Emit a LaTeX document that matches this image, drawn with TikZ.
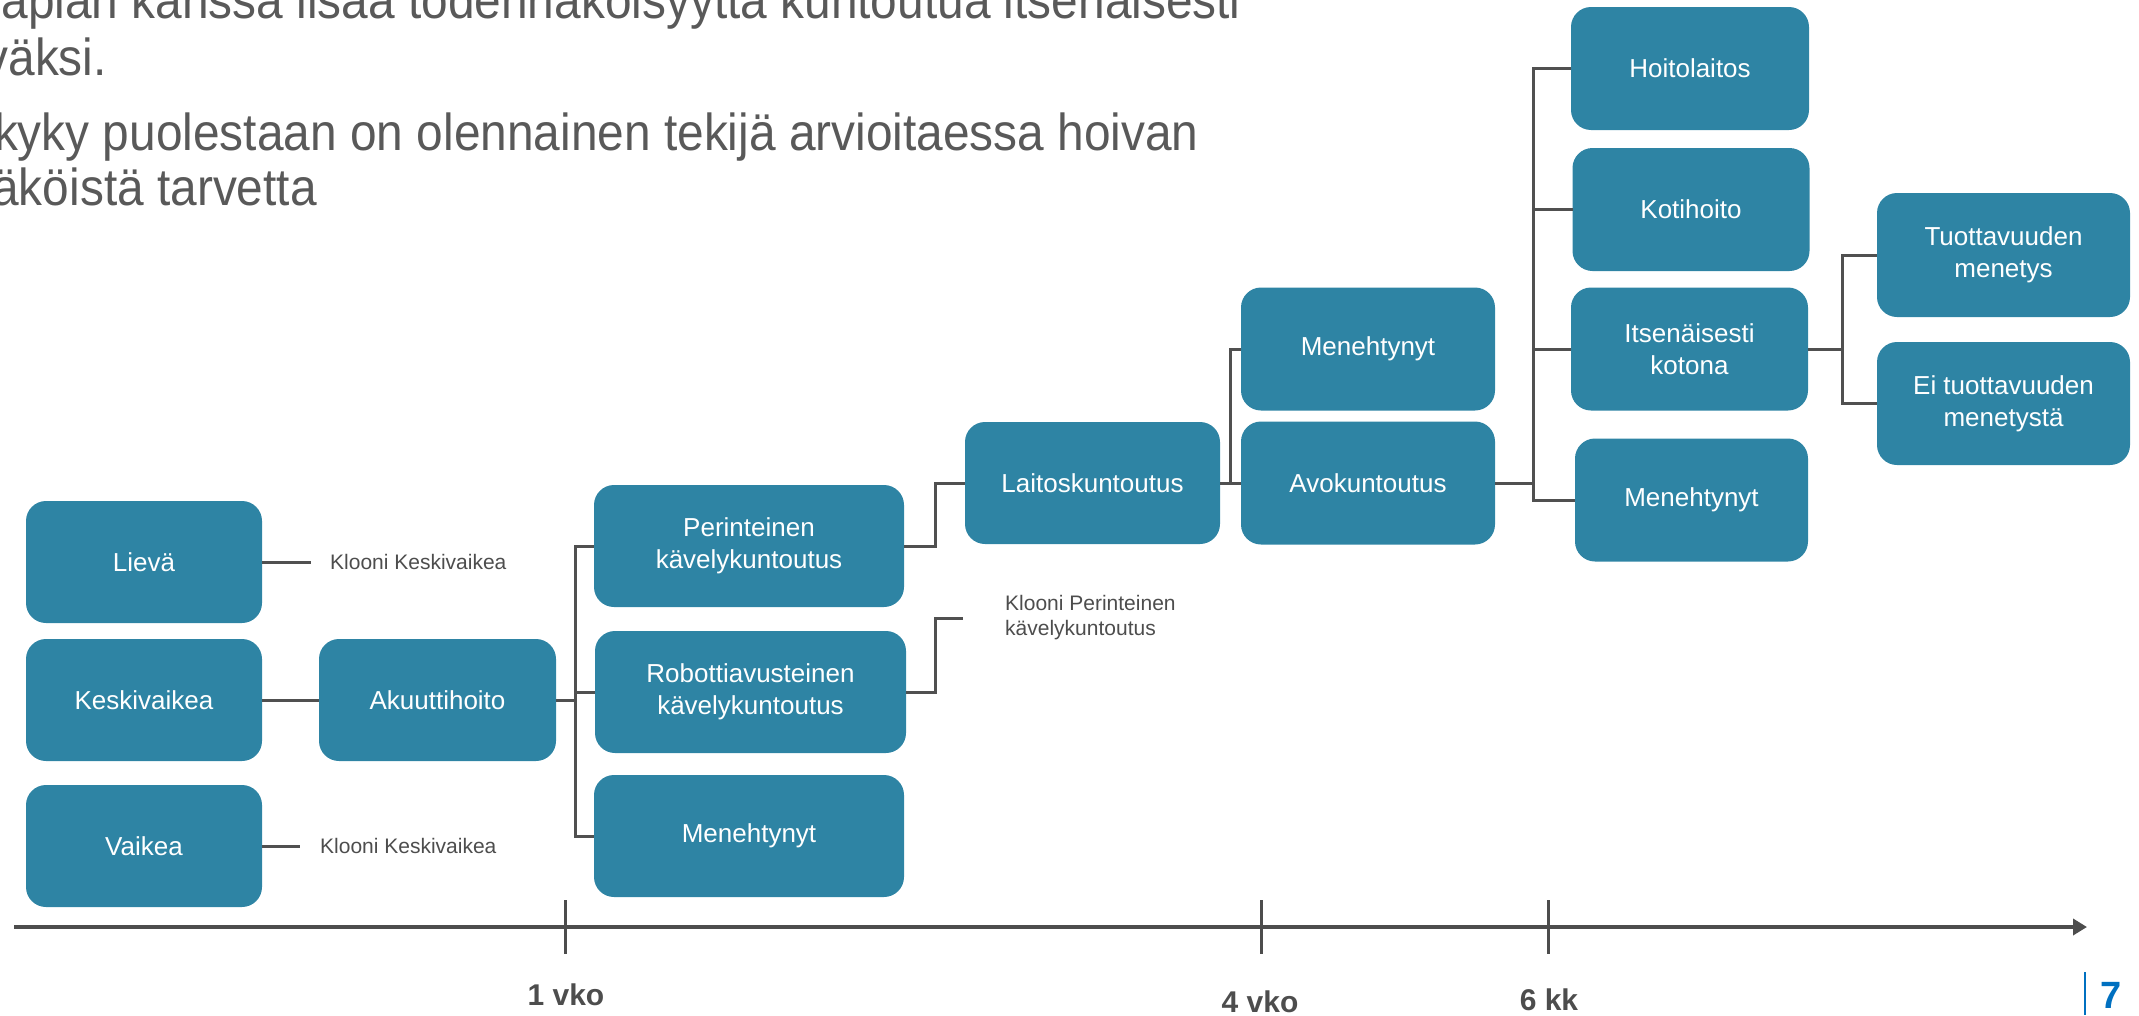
\documentclass[tikz,border=0pt]{standalone}
\usepackage{fontspec}
\setmainfont{Liberation Sans}
\newfontfamily\topfont[FakeStretch=0.92]{Liberation Sans}
\usetikzlibrary{arrows.meta}
\definecolor{boxc}{RGB}{46,132,164}
\definecolor{linec}{RGB}{80,80,80}
\definecolor{txtc}{RGB}{89,89,89}
\definecolor{axisc}{RGB}{77,77,77}
\definecolor{blueseven}{RGB}{0,112,192}
\begin{document}
\begin{tikzpicture}[x=1pt,y=-1pt,
  box/.style={fill=boxc, rounded corners=20pt, text=white,
    font=\fontsize{26}{32}\selectfont, align=center,
    inner sep=0pt, outer sep=0pt, minimum height=122pt},
  conn/.style={draw=linec, line width=3pt},
  clone/.style={text=axisc, font=\fontsize{21}{25}\selectfont, inner sep=0pt, align=left},
  toptxt/.style={text=txtc, font=\topfont\fontsize{52}{56}\selectfont, inner sep=0pt, anchor=base east},
  ticklab/.style={text=axisc, font=\bfseries\fontsize{30}{36}\selectfont, inner sep=0pt, anchor=base},
  axis/.style={draw=axisc, line width=4.5pt},
  tickline/.style={draw=axisc, line width=3pt}]
\useasboundingbox (0,0) rectangle (2139,1015);
\clip (0,0) rectangle (2139,1015);

% top text (cut off by the slide edge)
\node[toptxt] (t1) at (1241,18) {aplan kanssa lisää todennäköisyyttä kuntoutua itsenäisesti};
\node[toptxt] (t2) at (107,75) {väksi.};
\node[toptxt] (t3) at (1199,150) {kyky puolestaan on olennainen tekijä arvioitaessa hoivan};
\node[toptxt] (t4) at (317,205) {äköistä tarvetta};

% boxes
\node[box, minimum width=236pt] (lieva) at (144,562) {Lievä};
\node[box, minimum width=236pt] (keski) at (144,700) {Keskivaikea};
\node[box, minimum width=236pt] (vaikea) at (144,846) {Vaikea};
\node[box, minimum width=237pt] (akuutti) at (437.5,700) {Akuuttihoito};
\node[box, minimum width=310pt] (perint) at (749,546) {Perinteinen\\kävelykuntoutus};
\node[box, minimum width=311pt] (robotti) at (750.5,692) {Robottiavusteinen\\kävelykuntoutus};
\node[box, minimum width=310pt] (menA) at (749,836) {Menehtynyt};
\node[box, minimum width=255pt] (laitos) at (1092.5,483) {Laitoskuntoutus};
\node[box, minimum width=254pt, minimum height=123pt] (menB) at (1368,349) {Menehtynyt};
\node[box, minimum width=254pt, minimum height=123pt] (avo) at (1368,483) {Avokuntoutus};
\node[box, minimum width=238pt, minimum height=123pt] (hoito) at (1690,68.5) {Hoitolaitos};
\node[box, minimum width=237pt, minimum height=123pt] (koti) at (1691,209.5) {Kotihoito};
\node[box, minimum width=237pt, minimum height=123pt] (itsen) at (1689.5,349) {Itsenäisesti\\kotona};
\node[box, minimum width=233pt, minimum height=123pt] (menC) at (1691.5,500) {Menehtynyt};
\node[box, minimum width=253pt, minimum height=124pt] (tuott) at (2003.5,255) {Tuottavuuden\\menetys};
\node[box, minimum width=253pt, minimum height=123pt] (eituott) at (2003.5,403.5) {Ei tuottavuuden\\menetystä};

% clone labels
\node[clone, anchor=west] (kl1) at (330,562) {Klooni Keskivaikea};
\node[clone, anchor=west] (kl2) at (320,846) {Klooni Keskivaikea};
\node[clone, anchor=north west] (kl3) at (1005,595) {Klooni Perinteinen\\kävelykuntoutus};

% connector points
\coordinate (e1) at (311,562);
\coordinate (e2) at (300,846);
\coordinate (b1) at (575,700);
\coordinate (b2) at (935,546);
\coordinate (b3) at (935,692);
\coordinate (e3) at (963,618);
\coordinate (b4) at (1230,483);
\coordinate (b5) at (1533,483);
\coordinate (b6) at (1842,349);

% connectors
\draw[conn] (lieva.east) -- (e1);
\draw[conn] (vaikea.east) -- (e2);
\draw[conn] (keski.east) -- (akuutti.west);
\draw[conn] (akuutti.east) -- (b1);
\draw[conn] (b1) |- (perint.west);
\draw[conn] (b1) |- (robotti.west);
\draw[conn] (b1) |- (menA.west);
\draw[conn] (perint.east) -- (b2) |- (laitos.west);
\draw[conn] (robotti.east) -- (b3) |- (e3);
\draw[conn] (laitos.east) -- (avo.west);
\draw[conn] (b4) |- (menB.west);
\draw[conn] (avo.east) -- (b5);
\draw[conn] (b5) |- (hoito.west);
\draw[conn] (b5) |- (koti.west);
\draw[conn] (b5) |- (itsen.west);
\draw[conn] (b5) |- (menC.west);
\draw[conn] (itsen.east) -- (b6);
\draw[conn] (b6) |- (tuott.west);
\draw[conn] (b6) |- (eituott.west);

% time axis
\coordinate (a0) at (14,927);
\coordinate (a1) at (2087,927);
\draw[axis, -{Triangle[length=14pt,width=16pt]}] (a0) -- (a1);
\coordinate (k1a) at (565,900); \coordinate (k1b) at (565,954);
\coordinate (k2a) at (1261,900); \coordinate (k2b) at (1261,954);
\coordinate (k3a) at (1548,900); \coordinate (k3b) at (1548,954);
\draw[tickline] (k1a) -- (k1b);
\draw[tickline] (k2a) -- (k2b);
\draw[tickline] (k3a) -- (k3b);
\node[ticklab] (l1) at (566,1005) {1 vko};
\node[ticklab] (l2) at (1260,1012) {4 vko};
\node[ticklab] (l3) at (1549,1010) {6 kk};

% page number
\coordinate (p0) at (2085,972);
\coordinate (p1) at (2085,1015);
\draw[draw=blueseven, line width=2pt] (p0) -- (p1);
\node[text=blueseven, font=\bfseries\fontsize{38}{40}\selectfont, inner sep=0pt, anchor=base west] (pg) at (2100,1008) {7};
\end{tikzpicture}
\end{document}
